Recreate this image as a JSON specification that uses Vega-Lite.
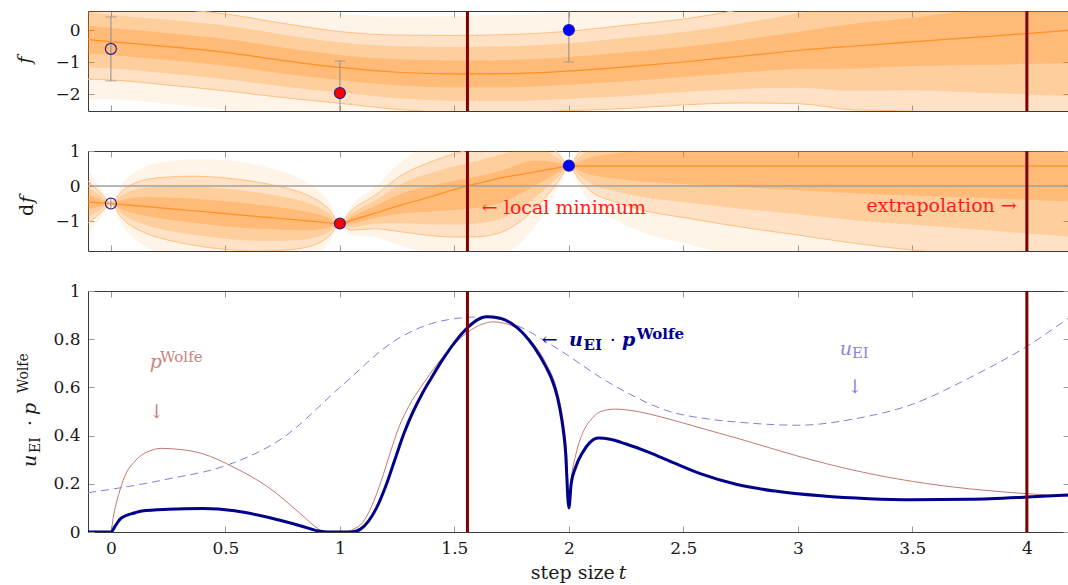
{
"$schema":"https://vega.github.io/schema/vega-lite/v6.json",
"padding":{"left":15,"top":9,"right":0,"bottom":0},
"spacing":40,
"bounds":"flush",
"config":{"view":{"stroke":null},"font":"DejaVu Serif",
 "axis":{"grid":false,"tickSize":-6,"tickColor":"#9a9a9a","tickWidth":1,"domainColor":"#3a3a3a","domainWidth":1,"labelFont":"DejaVu Serif","labelFontSize":17,"labelColor":"#1a1a1a","labelPadding":14,"labelFlush":false,"labelOverlap":false}},
"datasets":{
 "vl":[{"t":1.557},{"t":4.0}],
 "zero":[{"v":0}],
 "fTop":[
  {"t":-0.1,"m":-0.30,"a1":-0.734,"a2":0.134,"b1":-1.168,"b2":0.568,"c1":-1.54,"c2":0.94,"d1":-2.16,"d2":1.56},
  {"t":0,"m":-0.36,"a1":-0.78,"a2":0.06,"b1":-1.2,"b2":0.48,"c1":-1.56,"c2":0.84,"d1":-2.16,"d2":1.44},
  {"t":0.25,"m":-0.52,"a1":-0.94,"a2":-0.10,"b1":-1.36,"b2":0.32,"c1":-1.72,"c2":0.68,"d1":-2.32,"d2":1.28},
  {"t":0.5,"m":-0.70,"a1":-1.12,"a2":-0.28,"b1":-1.54,"b2":0.14,"c1":-1.90,"c2":0.50,"d1":-2.50,"d2":1.10},
  {"t":0.75,"m":-0.95,"a1":-1.356,"a2":-0.544,"b1":-1.762,"b2":-0.138,"c1":-2.11,"c2":0.21,"d1":-2.69,"d2":0.79},
  {"t":1.0,"m":-1.17,"a1":-1.562,"a2":-0.778,"b1":-1.954,"b2":-0.386,"c1":-2.29,"c2":-0.05,"d1":-2.85,"d2":0.51},
  {"t":1.25,"m":-1.32,"a1":-1.726,"a2":-0.914,"b1":-2.132,"b2":-0.508,"c1":-2.48,"c2":-0.16,"d1":-3.06,"d2":0.42},
  {"t":1.5,"m":-1.37,"a1":-1.79,"a2":-0.95,"b1":-2.21,"b2":-0.53,"c1":-2.57,"c2":-0.17,"d1":-3.17,"d2":0.43},
  {"t":1.75,"m":-1.36,"a1":-1.787,"a2":-0.933,"b1":-2.214,"b2":-0.506,"c1":-2.58,"c2":-0.14,"d1":-3.19,"d2":0.47},
  {"t":2.0,"m":-1.28,"a1":-1.714,"a2":-0.846,"b1":-2.148,"b2":-0.412,"c1":-2.52,"c2":-0.04,"d1":-3.14,"d2":0.58},
  {"t":2.25,"m":-1.15,"a1":-1.605,"a2":-0.695,"b1":-2.06,"b2":-0.24,"c1":-2.45,"c2":0.15,"d1":-3.10,"d2":0.80},
  {"t":2.5,"m":-1.00,"a1":-1.469,"a2":-0.531,"b1":-1.938,"b2":-0.062,"c1":-2.34,"c2":0.34,"d1":-3.01,"d2":1.01},
  {"t":2.75,"m":-0.82,"a1":-1.331,"a2":-0.309,"b1":-1.842,"b2":0.202,"c1":-2.28,"c2":0.64,"d1":-3.01,"d2":1.37},
  {"t":3.0,"m":-0.64,"a1":-1.221,"a2":-0.059,"b1":-1.802,"b2":0.522,"c1":-2.30,"c2":1.02,"d1":-3.13,"d2":1.85},
  {"t":3.25,"m":-0.50,"a1":-1.2,"a2":0.2,"b1":-1.9,"b2":0.9,"c1":-2.5,"c2":1.5,"d1":-3.5,"d2":2.5},
  {"t":3.5,"m":-0.37,"a1":-1.126,"a2":0.386,"b1":-1.882,"b2":1.142,"c1":-2.53,"c2":1.79,"d1":-3.61,"d2":2.87},
  {"t":3.75,"m":-0.24,"a1":-1.094,"a2":0.614,"b1":-1.948,"b2":1.468,"c1":-2.68,"c2":2.2,"d1":-3.9,"d2":3.42},
  {"t":4.0,"m":-0.11,"a1":-1.062,"a2":0.842,"b1":-2.014,"b2":1.794,"c1":-2.83,"c2":2.61,"d1":-4.19,"d2":3.97},
  {"t":4.2,"m":0.0,"a1":-1.036,"a2":1.036,"b1":-2.072,"b2":2.072,"c1":-2.96,"c2":2.96,"d1":-4.44,"d2":4.44}
 ],
 "dfMid":[
  {"t":-0.1,"m":-0.46,"c1":-1.06,"c2":0.14,"a1":-0.67,"a2":-0.25,"b1":-0.88,"b2":-0.04,"d1":-1.36,"d2":0.44},
  {"t":-0.05,"m":-0.48,"c1":-0.80,"c2":-0.16,"a1":-0.592,"a2":-0.368,"b1":-0.704,"b2":-0.256,"d1":-0.96,"d2":0.0},
  {"t":0,"m":-0.50,"c1":-0.54,"c2":-0.46,"a1":-0.514,"a2":-0.486,"b1":-0.528,"b2":-0.472,"d1":-0.56,"d2":-0.44},
  {"t":0.05,"m":-0.53,"c1":-0.93,"c2":-0.13,"a1":-0.67,"a2":-0.39,"b1":-0.81,"b2":-0.25,"d1":-1.13,"d2":0.07},
  {"t":0.16,"m":-0.59,"c1":-1.37,"c2":0.19,"a1":-0.863,"a2":-0.317,"b1":-1.136,"b2":-0.044,"d1":-1.76,"d2":0.58},
  {"t":0.25,"m":-0.645,"c1":-1.545,"c2":0.255,"a1":-0.96,"a2":-0.33,"b1":-1.275,"b2":-0.015,"d1":-1.995,"d2":0.705},
  {"t":0.35,"m":-0.70,"c1":-1.68,"c2":0.28,"a1":-1.043,"a2":-0.357,"b1":-1.386,"b2":-0.014,"d1":-2.17,"d2":0.77},
  {"t":0.5,"m":-0.79,"c1":-1.81,"c2":0.23,"a1":-1.147,"a2":-0.433,"b1":-1.504,"b2":-0.076,"d1":-2.32,"d2":0.74},
  {"t":0.65,"m":-0.88,"c1":-1.86,"c2":0.10,"a1":-1.223,"a2":-0.537,"b1":-1.566,"b2":-0.194,"d1":-2.35,"d2":0.59},
  {"t":0.75,"m":-0.935,"c1":-1.835,"c2":-0.035,"a1":-1.25,"a2":-0.62,"b1":-1.565,"b2":-0.305,"d1":-2.285,"d2":0.415},
  {"t":0.84,"m":-0.99,"c1":-1.77,"c2":-0.21,"a1":-1.263,"a2":-0.717,"b1":-1.536,"b2":-0.444,"d1":-2.16,"d2":0.18},
  {"t":0.95,"m":-1.05,"c1":-1.45,"c2":-0.65,"a1":-1.19,"a2":-0.91,"b1":-1.33,"b2":-0.77,"d1":-1.65,"d2":-0.45},
  {"t":1.0,"m":-1.08,"c1":-1.12,"c2":-1.04,"a1":-1.094,"a2":-1.066,"b1":-1.108,"b2":-1.052,"d1":-1.14,"d2":-1.02},
  {"t":1.05,"m":-0.98,"c1":-1.26,"c2":-0.70,"a1":-1.078,"a2":-0.882,"b1":-1.176,"b2":-0.784,"d1":-1.40,"d2":-0.56},
  {"t":1.15,"m":-0.78,"c1":-1.22,"c2":-0.28,"a1":-0.915,"a2":-0.585,"b1":-1.079,"b2":-0.421,"d1":-1.455,"d2":-0.045},
  {"t":1.27,"m":-0.54,"c1":-1.31,"c2":0.31,"a1":-0.784,"a2":-0.217,"b1":-1.067,"b2":0.067,"d1":-1.715,"d2":0.715},
  {"t":1.4,"m":-0.30,"c1":-1.42,"c2":0.70,"a1":-0.731,"a2":0.011,"b1":-1.102,"b2":0.382,"d1":-1.95,"d2":1.23},
  {"t":1.5,"m":-0.10,"c1":-1.46,"c2":0.92,"a1":-0.687,"a2":0.147,"b1":-1.103,"b2":0.563,"d1":-2.055,"d2":1.515},
  {"t":1.6,"m":0.07,"c1":-1.45,"c2":1.10,"a1":-0.621,"a2":0.271,"b1":-1.068,"b2":0.718,"d1":-2.088,"d2":1.738},
  {"t":1.71,"m":0.24,"c1":-1.31,"c2":1.30,"a1":-0.462,"a2":0.452,"b1":-0.919,"b2":0.909,"d1":-1.963,"d2":1.953},
  {"t":1.85,"m":0.40,"c1":-0.66,"c2":1.40,"a1":0.01,"a2":0.73,"b1":-0.351,"b2":1.091,"d1":-1.175,"d2":1.915},
  {"t":1.95,"m":0.52,"c1":0.10,"c2":0.94,"a1":0.373,"a2":0.667,"b1":0.226,"b2":0.814,"d1":-0.11,"d2":1.15},
  {"t":2.0,"m":0.57,"c1":0.53,"c2":0.61,"a1":0.556,"a2":0.584,"b1":0.542,"b2":0.598,"d1":0.51,"d2":0.63},
  {"t":2.05,"m":0.57,"c1":0.15,"c2":0.99,"a1":0.423,"a2":0.717,"b1":0.276,"b2":0.864,"d1":-0.06,"d2":1.2},
  {"t":2.1,"m":0.57,"c1":-0.17,"c2":1.31,"a1":0.311,"a2":0.829,"b1":0.052,"b2":1.088,"d1":-0.54,"d2":1.68},
  {"t":2.2,"m":0.57,"c1":-0.45,"c2":1.59,"a1":0.213,"a2":0.927,"b1":-0.144,"b2":1.284,"d1":-0.96,"d2":2.1},
  {"t":2.32,"m":0.57,"c1":-0.69,"c2":1.83,"a1":0.129,"a2":1.011,"b1":-0.312,"b2":1.452,"d1":-1.32,"d2":2.46},
  {"t":2.5,"m":0.57,"c1":-0.90,"c2":2.04,"a1":0.056,"a2":1.085,"b1":-0.459,"b2":1.599,"d1":-1.635,"d2":2.775},
  {"t":2.75,"m":0.57,"c1":-1.17,"c2":2.31,"a1":-0.039,"a2":1.179,"b1":-0.648,"b2":1.788,"d1":-2.04,"d2":3.18},
  {"t":3.0,"m":0.57,"c1":-1.40,"c2":2.54,"a1":-0.12,"a2":1.26,"b1":-0.809,"b2":1.949,"d1":-2.385,"d2":3.525},
  {"t":3.25,"m":0.57,"c1":-1.64,"c2":2.78,"a1":-0.204,"a2":1.344,"b1":-0.977,"b2":2.117,"d1":-2.745,"d2":3.885},
  {"t":3.5,"m":0.57,"c1":-1.83,"c2":2.97,"a1":-0.27,"a2":1.41,"b1":-1.11,"b2":2.25,"d1":-3.03,"d2":4.17},
  {"t":3.75,"m":0.57,"c1":-2.0,"c2":3.14,"a1":-0.33,"a2":1.47,"b1":-1.229,"b2":2.369,"d1":-3.285,"d2":4.425},
  {"t":4.0,"m":0.57,"c1":-2.18,"c2":3.32,"a1":-0.393,"a2":1.533,"b1":-1.355,"b2":2.495,"d1":-3.555,"d2":4.695},
  {"t":4.2,"m":0.57,"c1":-2.32,"c2":3.46,"a1":-0.442,"a2":1.582,"b1":-1.453,"b2":2.593,"d1":-3.765,"d2":4.905}
 ],
 "ptsTop":[{"t":0,"v":-0.59,"kind":"open"},{"t":1,"v":-1.97,"kind":"red"},{"t":2,"v":0.0,"kind":"blue"}],
 "errTop":[{"t":0,"lo":-1.59,"hi":0.41},{"t":1,"lo":-2.97,"hi":-0.97},{"t":2,"lo":-1.0,"hi":1.0}],
 "ptsMid":[{"t":0,"v":-0.5,"kind":"open"},{"t":1,"v":-1.07,"kind":"red"},{"t":2,"v":0.58,"kind":"blue"}],
 "errMid":[{"t":0,"lo":-0.64,"hi":-0.36},{"t":1,"lo":-1.2,"hi":-0.94},{"t":2,"lo":0.45,"hi":0.71}],
 "uEI":[{"t":-0.1,"v":0.163},{"t":0,"v":0.177},{"t":0.25,"v":0.22},{"t":0.5,"v":0.275},{"t":0.75,"v":0.39},{"t":1.0,"v":0.6},{"t":1.25,"v":0.8},{"t":1.4,"v":0.865},{"t":1.5,"v":0.885},{"t":1.6,"v":0.892},{"t":1.7,"v":0.883},{"t":1.8,"v":0.845},{"t":1.9,"v":0.79},{"t":2.0,"v":0.73},{"t":2.14,"v":0.64},{"t":2.25,"v":0.58},{"t":2.44,"v":0.5},{"t":2.6,"v":0.47},{"t":2.75,"v":0.455},{"t":3.0,"v":0.443},{"t":3.25,"v":0.47},{"t":3.5,"v":0.53},{"t":3.75,"v":0.64},{"t":4.0,"v":0.77},{"t":4.2,"v":0.9}],
 "pW":[{"t":-0.1,"v":0},{"t":0,"v":0},{"t":0.01,"v":0.06},{"t":0.034,"v":0.156},{"t":0.06,"v":0.23},{"t":0.106,"v":0.295},{"t":0.18,"v":0.34},{"t":0.22,"v":0.347},{"t":0.27,"v":0.345},{"t":0.4,"v":0.325},{"t":0.54,"v":0.267},{"t":0.69,"v":0.184},{"t":0.83,"v":0.074},{"t":0.907,"v":0.012},{"t":0.93,"v":0},{"t":1.02,"v":0},{"t":1.06,"v":0.012},{"t":1.1,"v":0.04},{"t":1.14,"v":0.11},{"t":1.18,"v":0.21},{"t":1.22,"v":0.33},{"t":1.26,"v":0.44},{"t":1.3,"v":0.52},{"t":1.36,"v":0.61},{"t":1.42,"v":0.69},{"t":1.5,"v":0.78},{"t":1.56,"v":0.83},{"t":1.62,"v":0.862},{"t":1.67,"v":0.872},{"t":1.72,"v":0.866},{"t":1.78,"v":0.84},{"t":1.85,"v":0.775},{"t":1.9,"v":0.7},{"t":1.95,"v":0.58},{"t":1.975,"v":0.46},{"t":1.99,"v":0.33},{"t":2.0,"v":0.12},{"t":2.01,"v":0.22},{"t":2.03,"v":0.32},{"t":2.06,"v":0.41},{"t":2.1,"v":0.47},{"t":2.14,"v":0.5},{"t":2.2,"v":0.51},{"t":2.3,"v":0.5},{"t":2.4,"v":0.478},{"t":2.5,"v":0.452},{"t":2.6,"v":0.425},{"t":2.75,"v":0.385},{"t":3.0,"v":0.315},{"t":3.25,"v":0.255},{"t":3.5,"v":0.21},{"t":3.75,"v":0.179},{"t":4.0,"v":0.159},{"t":4.2,"v":0.148}],
 "prod":[{"t":-0.1,"v":0},{"t":0,"v":0},{"t":0.022,"v":0.03},{"t":0.044,"v":0.057},{"t":0.106,"v":0.08},{"t":0.135,"v":0.087},{"t":0.25,"v":0.094},{"t":0.4,"v":0.097},{"t":0.54,"v":0.088},{"t":0.69,"v":0.06},{"t":0.83,"v":0.025},{"t":0.907,"v":0.004},{"t":0.95,"v":0},{"t":1.05,"v":0},{"t":1.09,"v":0.012},{"t":1.125,"v":0.045},{"t":1.16,"v":0.1},{"t":1.2,"v":0.19},{"t":1.24,"v":0.3},{"t":1.28,"v":0.41},{"t":1.32,"v":0.5},{"t":1.36,"v":0.575},{"t":1.4,"v":0.64},{"t":1.445,"v":0.71},{"t":1.5,"v":0.785},{"t":1.56,"v":0.85},{"t":1.6,"v":0.88},{"t":1.64,"v":0.893},{"t":1.7,"v":0.887},{"t":1.75,"v":0.865},{"t":1.8,"v":0.825},{"t":1.85,"v":0.765},{"t":1.9,"v":0.685},{"t":1.925,"v":0.635},{"t":1.95,"v":0.56},{"t":1.97,"v":0.46},{"t":1.985,"v":0.34},{"t":2.0,"v":0.1},{"t":2.01,"v":0.2},{"t":2.03,"v":0.27},{"t":2.06,"v":0.33},{"t":2.09,"v":0.37},{"t":2.13,"v":0.39},{"t":2.18,"v":0.385},{"t":2.25,"v":0.365},{"t":2.35,"v":0.33},{"t":2.45,"v":0.29},{"t":2.58,"v":0.24},{"t":2.73,"v":0.198},{"t":2.9,"v":0.17},{"t":3.1,"v":0.15},{"t":3.31,"v":0.138},{"t":3.5,"v":0.134},{"t":3.75,"v":0.136},{"t":4.0,"v":0.145},{"t":4.2,"v":0.155}]
},
"vconcat":[
{
 "width":981,"height":100,
 "resolve":{"axis":{"x":"independent","y":"independent"}},
 "layer":[
  {"data":{"name":"fTop"},"mark":{"type":"area","color":"#ff8000","opacity":0.09,"clip":true,"interpolate":"monotone"},
   "encoding":{"x":{"field":"t","type":"quantitative","scale":{"domain":[-0.1,4.184],"nice":false,"zero":false},"axis":null},
    "y":{"field":"d1","type":"quantitative","scale":{"domain":[-2.531,0.594],"nice":false,"zero":false},"axis":null},"y2":{"field":"d2"}}},
  {"data":{"name":"fTop"},"mark":{"type":"area","color":"#ff8000","opacity":0.15,"clip":true,"interpolate":"monotone"},
   "encoding":{"x":{"field":"t","type":"quantitative","scale":{"domain":[-0.1,4.184],"nice":false,"zero":false},"axis":null},
    "y":{"field":"c1","type":"quantitative","scale":{"domain":[-2.531,0.594],"nice":false,"zero":false},"axis":null},"y2":{"field":"c2"}}},
  {"data":{"name":"fTop"},"mark":{"type":"area","color":"#ff8000","opacity":0.2,"clip":true,"interpolate":"monotone"},
   "encoding":{"x":{"field":"t","type":"quantitative","scale":{"domain":[-0.1,4.184],"nice":false,"zero":false},"axis":null},
    "y":{"field":"b1","type":"quantitative","scale":{"domain":[-2.531,0.594],"nice":false,"zero":false},"axis":null},"y2":{"field":"b2"}}},
  {"data":{"name":"fTop"},"mark":{"type":"area","color":"#ff8000","opacity":0.24,"clip":true,"interpolate":"monotone"},
   "encoding":{"x":{"field":"t","type":"quantitative","scale":{"domain":[-0.1,4.184],"nice":false,"zero":false},"axis":null},
    "y":{"field":"a1","type":"quantitative","scale":{"domain":[-2.531,0.594],"nice":false,"zero":false},"axis":null},"y2":{"field":"a2"}}},
  {"data":{"name":"fTop"},"mark":{"type":"line","color":"#ffbf80","strokeWidth":1,"clip":true,"interpolate":"monotone"},
   "encoding":{"x":{"field":"t","type":"quantitative","scale":{"domain":[-0.1,4.184],"nice":false,"zero":false},"axis":{"orient":"top","values":[0,0.5,1,1.5,2,2.5,3,3.5,4],"labels":false,"title":null}},
    "y":{"field":"c1","type":"quantitative","scale":{"domain":[-2.531,0.594],"nice":false,"zero":false},"axis":{"orient":"right","values":[-2,-1,0],"labels":false,"domain":false,"title":null}}}},
  {"data":{"name":"fTop"},"mark":{"type":"line","color":"#ffbf80","strokeWidth":1,"clip":true,"interpolate":"monotone"},
   "encoding":{"x":{"field":"t","type":"quantitative","scale":{"domain":[-0.1,4.184],"nice":false,"zero":false},"axis":null},
    "y":{"field":"c2","type":"quantitative","scale":{"domain":[-2.531,0.594],"nice":false,"zero":false},"axis":null}}},
  {"data":{"name":"fTop"},"mark":{"type":"line","color":"#ff8c1a","strokeWidth":1.2,"opacity":0.9,"clip":true,"interpolate":"monotone"},
   "encoding":{"x":{"field":"t","type":"quantitative","scale":{"domain":[-0.1,4.184],"nice":false,"zero":false},"axis":{"orient":"bottom","values":[0,0.5,1,1.5,2,2.5,3,3.5,4],"labels":false,"title":null}},
    "y":{"field":"m","type":"quantitative","scale":{"domain":[-2.531,0.594],"nice":false,"zero":false},"axis":{"orient":"left","values":[-2,-1,0],"format":"~g","title":null}}}},
  {"data":{"name":"vl"},"mark":{"type":"rule","color":"#800000","strokeWidth":3},
   "encoding":{"x":{"field":"t","type":"quantitative","scale":{"domain":[-0.1,4.184],"nice":false,"zero":false},"axis":null}}},
  {"data":{"name":"errTop"},"mark":{"type":"rule","color":"#8c8c8c","strokeWidth":1,"clip":true},
   "encoding":{"x":{"field":"t","type":"quantitative","scale":{"domain":[-0.1,4.184],"nice":false,"zero":false},"axis":null},
    "y":{"field":"lo","type":"quantitative","scale":{"domain":[-2.531,0.594],"nice":false,"zero":false},"axis":null},"y2":{"field":"hi"}}},
  {"data":{"name":"errTop"},"mark":{"type":"tick","orient":"horizontal","color":"#8c8c8c","size":11,"thickness":1,"clip":true},
   "encoding":{"x":{"field":"t","type":"quantitative","scale":{"domain":[-0.1,4.184],"nice":false,"zero":false},"axis":null},
    "y":{"field":"lo","type":"quantitative","scale":{"domain":[-2.531,0.594],"nice":false,"zero":false},"axis":null}}},
  {"data":{"name":"errTop"},"mark":{"type":"tick","orient":"horizontal","color":"#8c8c8c","size":11,"thickness":1,"clip":true},
   "encoding":{"x":{"field":"t","type":"quantitative","scale":{"domain":[-0.1,4.184],"nice":false,"zero":false},"axis":null},
    "y":{"field":"hi","type":"quantitative","scale":{"domain":[-2.531,0.594],"nice":false,"zero":false},"axis":null}}},
  {"data":{"name":"ptsTop"},"transform":[{"filter":"datum.kind === 'open'"}],"mark":{"type":"point","filled":false,"stroke":"#22229a","strokeWidth":1.2,"size":120,"opacity":1},
   "encoding":{"x":{"field":"t","type":"quantitative","scale":{"domain":[-0.1,4.184],"nice":false,"zero":false},"axis":null},
    "y":{"field":"v","type":"quantitative","scale":{"domain":[-2.531,0.594],"nice":false,"zero":false},"axis":null}}},
  {"data":{"name":"ptsTop"},"transform":[{"filter":"datum.kind === 'red'"}],"mark":{"type":"point","filled":true,"fill":"#ff0000","stroke":"#22229a","strokeWidth":1.2,"size":120,"opacity":1},
   "encoding":{"x":{"field":"t","type":"quantitative","scale":{"domain":[-0.1,4.184],"nice":false,"zero":false},"axis":null},
    "y":{"field":"v","type":"quantitative","scale":{"domain":[-2.531,0.594],"nice":false,"zero":false},"axis":null}}},
  {"data":{"name":"ptsTop"},"transform":[{"filter":"datum.kind === 'blue'"}],"mark":{"type":"point","filled":true,"fill":"#0000ff","stroke":"#1515c0","strokeWidth":1.2,"size":120,"opacity":1},
   "encoding":{"x":{"field":"t","type":"quantitative","scale":{"domain":[-0.1,4.184],"nice":false,"zero":false},"axis":null},
    "y":{"field":"v","type":"quantitative","scale":{"domain":[-2.531,0.594],"nice":false,"zero":false},"axis":null}}},
  {"data":{"values":[{"t":-0.349,"v":-0.94,"label":"f"}]},"mark":{"type":"text","font":"DejaVu Serif","fontSize":19,"fontStyle":"italic","angle":270,"align":"center","baseline":"alphabetic","color":"#1a1a1a"},
   "encoding":{"x":{"field":"t","type":"quantitative","scale":{"domain":[-0.1,4.184],"nice":false,"zero":false},"axis":null},
    "y":{"field":"v","type":"quantitative","scale":{"domain":[-2.531,0.594],"nice":false,"zero":false},"axis":null},"text":{"field":"label"}}}
 ]
},
{
 "width":981,"height":100,
 "resolve":{"axis":{"x":"independent","y":"independent"}},
 "layer":[
  {"data":{"name":"dfMid"},"mark":{"type":"area","color":"#ff8000","opacity":0.09,"clip":true,"interpolate":"monotone"},
   "encoding":{"x":{"field":"t","type":"quantitative","scale":{"domain":[-0.1,4.184],"nice":false,"zero":false},"axis":null},
    "y":{"field":"d1","type":"quantitative","scale":{"domain":[-1.857,1],"nice":false,"zero":false},"axis":null},"y2":{"field":"d2"}}},
  {"data":{"name":"dfMid"},"mark":{"type":"area","color":"#ff8000","opacity":0.15,"clip":true,"interpolate":"monotone"},
   "encoding":{"x":{"field":"t","type":"quantitative","scale":{"domain":[-0.1,4.184],"nice":false,"zero":false},"axis":null},
    "y":{"field":"c1","type":"quantitative","scale":{"domain":[-1.857,1],"nice":false,"zero":false},"axis":null},"y2":{"field":"c2"}}},
  {"data":{"name":"dfMid"},"mark":{"type":"area","color":"#ff8000","opacity":0.2,"clip":true,"interpolate":"monotone"},
   "encoding":{"x":{"field":"t","type":"quantitative","scale":{"domain":[-0.1,4.184],"nice":false,"zero":false},"axis":null},
    "y":{"field":"b1","type":"quantitative","scale":{"domain":[-1.857,1],"nice":false,"zero":false},"axis":null},"y2":{"field":"b2"}}},
  {"data":{"name":"dfMid"},"mark":{"type":"area","color":"#ff8000","opacity":0.24,"clip":true,"interpolate":"monotone"},
   "encoding":{"x":{"field":"t","type":"quantitative","scale":{"domain":[-0.1,4.184],"nice":false,"zero":false},"axis":null},
    "y":{"field":"a1","type":"quantitative","scale":{"domain":[-1.857,1],"nice":false,"zero":false},"axis":null},"y2":{"field":"a2"}}},
  {"data":{"name":"dfMid"},"mark":{"type":"line","color":"#ffbf80","strokeWidth":1,"clip":true,"interpolate":"monotone"},
   "encoding":{"x":{"field":"t","type":"quantitative","scale":{"domain":[-0.1,4.184],"nice":false,"zero":false},"axis":{"orient":"top","values":[0,0.5,1,1.5,2,2.5,3,3.5,4],"labels":false,"title":null}},
    "y":{"field":"c1","type":"quantitative","scale":{"domain":[-1.857,1],"nice":false,"zero":false},"axis":{"orient":"right","values":[-1,0,1],"labels":false,"domain":false,"title":null}}}},
  {"data":{"name":"dfMid"},"mark":{"type":"line","color":"#ffbf80","strokeWidth":1,"clip":true,"interpolate":"monotone"},
   "encoding":{"x":{"field":"t","type":"quantitative","scale":{"domain":[-0.1,4.184],"nice":false,"zero":false},"axis":null},
    "y":{"field":"c2","type":"quantitative","scale":{"domain":[-1.857,1],"nice":false,"zero":false},"axis":null}}},
  {"data":{"name":"zero"},"mark":{"type":"rule","color":"#a0a0a0","strokeWidth":1.5},
   "encoding":{"y":{"field":"v","type":"quantitative","scale":{"domain":[-1.857,1],"nice":false,"zero":false},"axis":null}}},
  {"data":{"name":"dfMid"},"mark":{"type":"line","color":"#ff8c1a","strokeWidth":1.2,"opacity":0.9,"clip":true,"interpolate":"monotone"},
   "encoding":{"x":{"field":"t","type":"quantitative","scale":{"domain":[-0.1,4.184],"nice":false,"zero":false},"axis":{"orient":"bottom","values":[0,0.5,1,1.5,2,2.5,3,3.5,4],"labels":false,"title":null}},
    "y":{"field":"m","type":"quantitative","scale":{"domain":[-1.857,1],"nice":false,"zero":false},"axis":{"orient":"left","values":[-1,0,1],"format":"~g","title":null}}}},
  {"data":{"name":"vl"},"mark":{"type":"rule","color":"#800000","strokeWidth":3},
   "encoding":{"x":{"field":"t","type":"quantitative","scale":{"domain":[-0.1,4.184],"nice":false,"zero":false},"axis":null}}},
  {"data":{"name":"errMid"},"mark":{"type":"rule","color":"#8c8c8c","strokeWidth":1,"clip":true},
   "encoding":{"x":{"field":"t","type":"quantitative","scale":{"domain":[-0.1,4.184],"nice":false,"zero":false},"axis":null},
    "y":{"field":"lo","type":"quantitative","scale":{"domain":[-1.857,1],"nice":false,"zero":false},"axis":null},"y2":{"field":"hi"}}},
  {"data":{"name":"ptsMid"},"transform":[{"filter":"datum.kind === 'open'"}],"mark":{"type":"point","filled":false,"stroke":"#22229a","strokeWidth":1.2,"size":120,"opacity":1},
   "encoding":{"x":{"field":"t","type":"quantitative","scale":{"domain":[-0.1,4.184],"nice":false,"zero":false},"axis":null},
    "y":{"field":"v","type":"quantitative","scale":{"domain":[-1.857,1],"nice":false,"zero":false},"axis":null}}},
  {"data":{"name":"ptsMid"},"transform":[{"filter":"datum.kind === 'red'"}],"mark":{"type":"point","filled":true,"fill":"#ff0000","stroke":"#22229a","strokeWidth":1.2,"size":120,"opacity":1},
   "encoding":{"x":{"field":"t","type":"quantitative","scale":{"domain":[-0.1,4.184],"nice":false,"zero":false},"axis":null},
    "y":{"field":"v","type":"quantitative","scale":{"domain":[-1.857,1],"nice":false,"zero":false},"axis":null}}},
  {"data":{"name":"ptsMid"},"transform":[{"filter":"datum.kind === 'blue'"}],"mark":{"type":"point","filled":true,"fill":"#0000ff","stroke":"#1515c0","strokeWidth":1.2,"size":120,"opacity":1},
   "encoding":{"x":{"field":"t","type":"quantitative","scale":{"domain":[-0.1,4.184],"nice":false,"zero":false},"axis":null},
    "y":{"field":"v","type":"quantitative","scale":{"domain":[-1.857,1],"nice":false,"zero":false},"axis":null}}},
  {"data":{"values":[{"t":1.62,"v":-0.63,"label":"← local minimum"}]},"mark":{"type":"text","font":"DejaVu Serif","fontSize":19,"align":"left","baseline":"middle","color":"#ff1a1a"},
   "encoding":{"x":{"field":"t","type":"quantitative","scale":{"domain":[-0.1,4.184],"nice":false,"zero":false},"axis":null},
    "y":{"field":"v","type":"quantitative","scale":{"domain":[-1.857,1],"nice":false,"zero":false},"axis":null},"text":{"field":"label"}}},
  {"data":{"values":[{"t":3.956,"v":-0.57,"label":"extrapolation →"}]},"mark":{"type":"text","font":"DejaVu Serif","fontSize":19,"align":"right","baseline":"middle","color":"#ff1a1a"},
   "encoding":{"x":{"field":"t","type":"quantitative","scale":{"domain":[-0.1,4.184],"nice":false,"zero":false},"axis":null},
    "y":{"field":"v","type":"quantitative","scale":{"domain":[-1.857,1],"nice":false,"zero":false},"axis":null},"text":{"field":"label"}}},
  {"data":{"values":[{"t":-0.341,"v":-0.857,"label":"d"}]},"mark":{"type":"text","font":"DejaVu Serif","fontSize":19,"angle":270,"align":"left","baseline":"alphabetic","color":"#1a1a1a"},
   "encoding":{"x":{"field":"t","type":"quantitative","scale":{"domain":[-0.1,4.184],"nice":false,"zero":false},"axis":null},
    "y":{"field":"v","type":"quantitative","scale":{"domain":[-1.857,1],"nice":false,"zero":false},"axis":null},"text":{"field":"label"}}},
  {"data":{"values":[{"t":-0.341,"v":-0.486,"label":"f"}]},"mark":{"type":"text","font":"DejaVu Serif","fontSize":19,"fontStyle":"italic","angle":270,"align":"left","baseline":"alphabetic","color":"#1a1a1a"},
   "encoding":{"x":{"field":"t","type":"quantitative","scale":{"domain":[-0.1,4.184],"nice":false,"zero":false},"axis":null},
    "y":{"field":"v","type":"quantitative","scale":{"domain":[-1.857,1],"nice":false,"zero":false},"axis":null},"text":{"field":"label"}}}
 ]
},
{
 "width":981,"height":241,
 "resolve":{"axis":{"x":"independent","y":"independent"}},
 "layer":[
  {"data":{"name":"uEI"},"mark":{"type":"line","color":"#8080d8","strokeWidth":1,"strokeDash":[8,5],"clip":true,"interpolate":"monotone"},
   "encoding":{"x":{"field":"t","type":"quantitative","scale":{"domain":[-0.1,4.184],"nice":false,"zero":false},"axis":{"orient":"top","values":[0,0.5,1,1.5,2,2.5,3,3.5,4],"labels":false,"title":null}},
    "y":{"field":"v","type":"quantitative","scale":{"domain":[0,1],"nice":false,"zero":false},"axis":{"orient":"right","values":[0,0.2,0.4,0.6,0.8,1],"labels":false,"domain":false,"title":null}}}},
  {"data":{"name":"pW"},"mark":{"type":"line","color":"#c07a72","strokeWidth":1,"clip":true,"interpolate":"monotone"},
   "encoding":{"x":{"field":"t","type":"quantitative","scale":{"domain":[-0.1,4.184],"nice":false,"zero":false},"axis":null},
    "y":{"field":"v","type":"quantitative","scale":{"domain":[0,1],"nice":false,"zero":false},"axis":null}}},
  {"data":{"name":"prod"},"mark":{"type":"line","color":"#00008b","strokeWidth":3,"clip":true,"interpolate":"monotone"},
   "encoding":{"x":{"field":"t","type":"quantitative","scale":{"domain":[-0.1,4.184],"nice":false,"zero":false},"axis":{"orient":"bottom","values":[0,0.5,1,1.5,2,2.5,3,3.5,4],"format":"~g","title":null}},
    "y":{"field":"v","type":"quantitative","scale":{"domain":[0,1],"nice":false,"zero":false},"axis":{"orient":"left","values":[0,0.2,0.4,0.6,0.8,1],"format":"~g","title":null}}}},
  {"data":{"name":"vl"},"mark":{"type":"rule","color":"#800000","strokeWidth":3},
   "encoding":{"x":{"field":"t","type":"quantitative","scale":{"domain":[-0.1,4.184],"nice":false,"zero":false},"axis":null}}},
  {"data":{"values":[{"t":0.17,"v":0.68,"label":"p"}]},"mark":{"type":"text","font":"DejaVu Serif","fontSize":19,"fontStyle":"italic","align":"left","baseline":"alphabetic","color":"#c8847c"},
   "encoding":{"x":{"field":"t","type":"quantitative","scale":{"domain":[-0.1,4.184],"nice":false,"zero":false},"axis":null},
    "y":{"field":"v","type":"quantitative","scale":{"domain":[0,1],"nice":false,"zero":false},"axis":null},"text":{"field":"label"}}},
  {"data":{"values":[{"t":0.214,"v":0.705,"label":"Wolfe"}]},"mark":{"type":"text","font":"DejaVu Serif","fontSize":15,"align":"left","baseline":"alphabetic","color":"#c8847c"},
   "encoding":{"x":{"field":"t","type":"quantitative","scale":{"domain":[-0.1,4.184],"nice":false,"zero":false},"axis":null},
    "y":{"field":"v","type":"quantitative","scale":{"domain":[0,1],"nice":false,"zero":false},"axis":null},"text":{"field":"label"}}},
  {"data":{"values":[{"t":0.2,"v":0.5,"label":"↓"}]},"mark":{"type":"text","font":"DejaVu Serif","fontSize":19,"align":"center","baseline":"middle","color":"#c8847c"},
   "encoding":{"x":{"field":"t","type":"quantitative","scale":{"domain":[-0.1,4.184],"nice":false,"zero":false},"axis":null},
    "y":{"field":"v","type":"quantitative","scale":{"domain":[0,1],"nice":false,"zero":false},"axis":null},"text":{"field":"label"}}},
  {"data":{"values":[{"t":3.249,"v":0.6,"label":"↓"}]},"mark":{"type":"text","font":"DejaVu Serif","fontSize":19,"align":"center","baseline":"middle","color":"#8888dc"},
   "encoding":{"x":{"field":"t","type":"quantitative","scale":{"domain":[-0.1,4.184],"nice":false,"zero":false},"axis":null},
    "y":{"field":"v","type":"quantitative","scale":{"domain":[0,1],"nice":false,"zero":false},"axis":null},"text":{"field":"label"}}},
  {"data":{"values":[{"t":3.183,"v":0.734,"label":"u"}]},"mark":{"type":"text","font":"DejaVu Serif","fontSize":19,"fontStyle":"italic","align":"left","baseline":"alphabetic","color":"#8888dc"},
   "encoding":{"x":{"field":"t","type":"quantitative","scale":{"domain":[-0.1,4.184],"nice":false,"zero":false},"axis":null},
    "y":{"field":"v","type":"quantitative","scale":{"domain":[0,1],"nice":false,"zero":false},"axis":null},"text":{"field":"label"}}},
  {"data":{"values":[{"t":3.236,"v":0.72,"label":"EI"}]},"mark":{"type":"text","font":"DejaVu Serif","fontSize":15,"align":"left","baseline":"alphabetic","color":"#8888dc"},
   "encoding":{"x":{"field":"t","type":"quantitative","scale":{"domain":[-0.1,4.184],"nice":false,"zero":false},"axis":null},
    "y":{"field":"v","type":"quantitative","scale":{"domain":[0,1],"nice":false,"zero":false},"axis":null},"text":{"field":"label"}}},
  {"data":{"values":[{"t":1.882,"v":0.772,"label":"←"},{"t":2.178,"v":0.772,"label":"·"}]},"mark":{"type":"text","font":"DejaVu Serif","fontSize":19,"align":"left","baseline":"alphabetic","color":"#00008b"},
   "encoding":{"x":{"field":"t","type":"quantitative","scale":{"domain":[-0.1,4.184],"nice":false,"zero":false},"axis":null},
    "y":{"field":"v","type":"quantitative","scale":{"domain":[0,1],"nice":false,"zero":false},"axis":null},"text":{"field":"label"}}},
  {"data":{"values":[{"t":2.0,"v":0.772,"label":"u"},{"t":2.232,"v":0.772,"label":"p"}]},"mark":{"type":"text","font":"DejaVu Serif","fontSize":19,"fontStyle":"italic","fontWeight":"bold","align":"left","baseline":"alphabetic","color":"#00008b"},
   "encoding":{"x":{"field":"t","type":"quantitative","scale":{"domain":[-0.1,4.184],"nice":false,"zero":false},"axis":null},
    "y":{"field":"v","type":"quantitative","scale":{"domain":[0,1],"nice":false,"zero":false},"axis":null},"text":{"field":"label"}}},
  {"data":{"values":[{"t":2.064,"v":0.757,"label":"EI"},{"t":2.296,"v":0.8,"label":"Wolfe"}]},"mark":{"type":"text","font":"DejaVu Serif","fontSize":15,"fontWeight":"bold","align":"left","baseline":"alphabetic","color":"#00008b"},
   "encoding":{"x":{"field":"t","type":"quantitative","scale":{"domain":[-0.1,4.184],"nice":false,"zero":false},"axis":null},
    "y":{"field":"v","type":"quantitative","scale":{"domain":[0,1],"nice":false,"zero":false},"axis":null},"text":{"field":"label"}}},
  {"data":{"values":[{"t":-0.328,"v":0.2697,"label":"u"},{"t":-0.328,"v":0.4855,"label":"p"}]},"mark":{"type":"text","font":"DejaVu Serif","fontSize":19,"fontStyle":"italic","angle":270,"align":"left","baseline":"alphabetic","color":"#1a1a1a"},
   "encoding":{"x":{"field":"t","type":"quantitative","scale":{"domain":[-0.1,4.184],"nice":false,"zero":false},"axis":null},
    "y":{"field":"v","type":"quantitative","scale":{"domain":[0,1],"nice":false,"zero":false},"axis":null},"text":{"field":"label"}}},
  {"data":{"values":[{"t":-0.328,"v":0.4398,"label":"·"}]},"mark":{"type":"text","font":"DejaVu Serif","fontSize":19,"angle":270,"align":"left","baseline":"alphabetic","color":"#1a1a1a"},
   "encoding":{"x":{"field":"t","type":"quantitative","scale":{"domain":[-0.1,4.184],"nice":false,"zero":false},"axis":null},
    "y":{"field":"v","type":"quantitative","scale":{"domain":[0,1],"nice":false,"zero":false},"axis":null},"text":{"field":"label"}}},
  {"data":{"values":[{"t":-0.310,"v":0.328,"label":"EI"},{"t":-0.3624,"v":0.5768,"label":"Wolfe"}]},"mark":{"type":"text","font":"DejaVu Serif","fontSize":14,"angle":270,"align":"left","baseline":"alphabetic","color":"#1a1a1a"},
   "encoding":{"x":{"field":"t","type":"quantitative","scale":{"domain":[-0.1,4.184],"nice":false,"zero":false},"axis":null},
    "y":{"field":"v","type":"quantitative","scale":{"domain":[0,1],"nice":false,"zero":false},"axis":null},"text":{"field":"label"}}},
  {"data":{"values":[{"t":1.834,"v":-0.195,"label":"step size"}]},"mark":{"type":"text","font":"DejaVu Serif","fontSize":19,"align":"left","baseline":"alphabetic","color":"#1a1a1a"},
   "encoding":{"x":{"field":"t","type":"quantitative","scale":{"domain":[-0.1,4.184],"nice":false,"zero":false},"axis":null},
    "y":{"field":"v","type":"quantitative","scale":{"domain":[0,1],"nice":false,"zero":false},"axis":null},"text":{"field":"label"}}},
  {"data":{"values":[{"t":2.218,"v":-0.195,"label":"t"}]},"mark":{"type":"text","font":"DejaVu Serif","fontSize":19,"fontStyle":"italic","align":"left","baseline":"alphabetic","color":"#1a1a1a"},
   "encoding":{"x":{"field":"t","type":"quantitative","scale":{"domain":[-0.1,4.184],"nice":false,"zero":false},"axis":null},
    "y":{"field":"v","type":"quantitative","scale":{"domain":[0,1],"nice":false,"zero":false},"axis":null},"text":{"field":"label"}}}
 ]
}
]
}
